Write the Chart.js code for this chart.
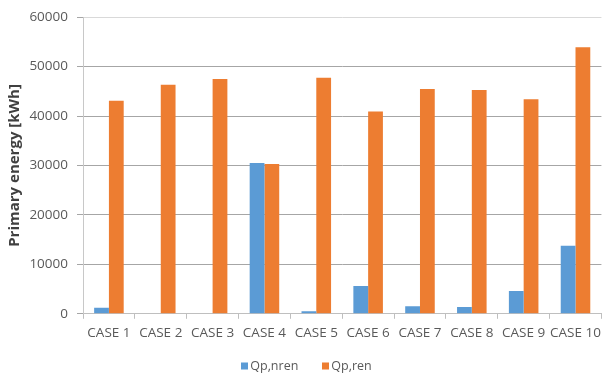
<!DOCTYPE html>
<html>
<head>
<meta charset="utf-8">
<script src="https://cdn.jsdelivr.net/npm/chart.js@4"></script>
<style>
  html, body { margin: 0; padding: 0; background: #ffffff; }
  #wrap { width: 607px; height: 378px; position: relative; }
</style>
</head>
<body>
<div id="wrap"><canvas id="chart"></canvas></div>
<script>
// Primary energy per case, split into non-renewable and renewable parts
const categories = ['CASE 1', 'CASE 2', 'CASE 3', 'CASE 4', 'CASE 5', 'CASE 6', 'CASE 7', 'CASE 8', 'CASE 9', 'CASE 10'];
const qpNren = [1200, 0, 0, 30500, 500, 5600, 1550, 1350, 4600, 13750];
const qpRen = [43100, 46300, 47500, 30300, 47750, 40900, 45450, 45250, 43400, 53900];
const yTicks = [0, 10000, 20000, 30000, 40000, 50000, 60000];
const seriesNames = ['Qp,nren', 'Qp,ren'];

const textColor = '#595959';
const fontFamily = '"Open Sans", "Liberation Sans", sans-serif';

// Compact legend at the bottom: small square swatch, tight gap to its text
const bottomLegend = {
  id: 'bottomLegend',
  afterDraw(chart) {
    const ctx = chart.ctx;
    const box = 7, boxGap = 2, itemGap = 24;
    const cy = 366;
    ctx.save();
    ctx.font = '12.5px ' + fontFamily;
    ctx.textBaseline = 'middle';
    ctx.textAlign = 'left';
    const items = chart.data.datasets.map(ds => ({
      text: ds.label,
      color: ds.backgroundColor,
      w: box + boxGap + ctx.measureText(ds.label).width
    }));
    const total = items.reduce((s, it) => s + it.w, 0) + itemGap * (items.length - 1);
    let x = chart.width / 2 - total / 2 + 3;
    items.forEach(it => {
      ctx.fillStyle = it.color;
      ctx.fillRect(Math.round(x), cy - 3.5, box, box);
      ctx.fillStyle = textColor;
      ctx.fillText(it.text, x + box + boxGap, cy);
      x += it.w + itemGap;
    });
    ctx.restore();
  }
};

new Chart(document.getElementById('chart'), {
  type: 'bar',
  data: {
    labels: categories,
    datasets: [
      { label: seriesNames[0], data: qpNren, backgroundColor: '#5B9BD5', borderWidth: 0 },
      { label: seriesNames[1], data: qpRen, backgroundColor: '#ED7D31', borderWidth: 0 }
    ]
  },
  plugins: [bottomLegend],
  options: {
    responsive: true,
    maintainAspectRatio: false,
    animation: false,
    devicePixelRatio: 1,
    layout: { padding: { top: 11, right: 1, left: 0, bottom: 31 } },
    datasets: { bar: { categoryPercentage: 0.57, barPercentage: 1.0 } },
    plugins: {
      tooltip: { enabled: false },
      legend: { display: false }
    },
    scales: {
      x: {
        grid: {
          display: true,
          offset: true,
          drawOnChartArea: false,
          drawTicks: true,
          tickLength: 5,
          color: '#BFBFBF'
        },
        border: { display: true, color: '#BFBFBF', width: 1 },
        ticks: {
          color: textColor,
          font: { family: fontFamily, size: 13.5 },
          padding: 6,
          maxRotation: 0,
          autoSkip: false
        }
      },
      y: {
        min: 0,
        max: 60000,
        afterBuildTicks: (scale) => { scale.ticks = yTicks.map(v => ({ value: v })); },
        afterFit: (scale) => { scale.width = 83; },
        grid: {
          color: (ctx) => (ctx.tick && ctx.tick.value === 60000 ? '#D9D9D9' : '#A6A6A6'),
          tickColor: '#A6A6A6',
          drawTicks: true,
          tickLength: 6
        },
        border: { display: true, color: '#C8C8C8', width: 1 },
        ticks: {
          color: textColor,
          font: { family: fontFamily, size: 13.5 },
          padding: 9,
          callback: (v) => String(v)
        },
        title: {
          display: true,
          text: 'Primary energy [kWh]',
          color: '#404040',
          font: { family: fontFamily, size: 15, weight: 'bold' },
          padding: { top: 6, bottom: 2 }
        }
      }
    }
  }
});
</script>
</body>
</html>
